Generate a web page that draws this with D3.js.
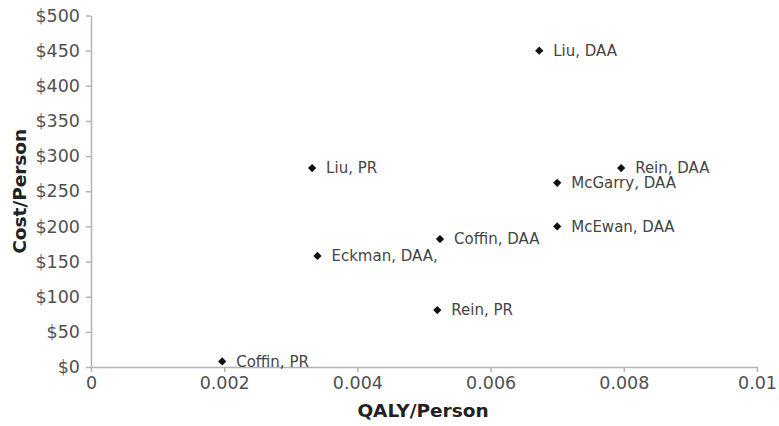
<!DOCTYPE html>
<html lang="en">
<head>
    <meta charset="UTF-8">
    <title>Cost vs QALY</title>
    <script src="https://d3js.org/d3.v7.min.js"></script>
    <style>
        body { margin: 0; background: #fff; }
        .axis path, .axis line { stroke: #b3b3b3; stroke-width: 1.5; }
        .axis text { font: 17.5px "DejaVu Sans", Verdana, sans-serif; fill: #505050; }
        .pt-label { font: 15px "DejaVu Sans", Verdana, sans-serif; fill: #444; }
        .title { font: bold 18.5px "DejaVu Sans", Verdana, sans-serif; fill: #222; }
    </style>
</head>
<body>
    <svg width="779" height="426"></svg>
    <script>
        // study labels and values
        const labels = ["Coffin, PR", "Liu, PR", "Eckman, DAA,", "Coffin, DAA", "Rein, PR",
                        "Liu, DAA", "Rein, DAA", "McGarry, DAA", "McEwan, DAA"];
        const qaly = [0.00197, 0.00332, 0.0034, 0.00524, 0.0052, 0.00673, 0.00796, 0.0070, 0.0070];
        const cost = [8, 283, 158, 182, 81, 450, 283, 262, 200];

        const xTicks = [0, 0.002, 0.004, 0.006, 0.008, 0.01];
        const yTicks = [0, 50, 100, 150, 200, 250, 300, 350, 400, 450, 500];

        const svg = d3.select("svg"),
              margin = {top: 15.5, right: 22, bottom: 59, left: 91},
              width = +svg.attr("width") - margin.left - margin.right,
              height = +svg.attr("height") - margin.top - margin.bottom,
              g = svg.append("g").attr("transform", `translate(${margin.left},${margin.top})`);

        const x = d3.scaleLinear().domain([0, 0.01]).range([0, width]);
        const y = d3.scaleLinear().domain([0, 500]).range([height, 0]);

        // y axis
        g.append("g")
         .attr("class", "axis")
         .call(d3.axisLeft(y).tickValues(yTicks).tickSize(5).tickPadding(6)
               .tickFormat(d => "$" + d).tickSizeOuter(0));

        // x axis
        g.append("g")
         .attr("class", "axis")
         .attr("transform", `translate(0,${height})`)
         .call(d3.axisBottom(x).tickValues(xTicks).tickSize(5).tickPadding(5)
               .tickFormat(d => d === 0 ? "0" : String(+d.toFixed(3))).tickSizeOuter(0));

        const data = labels.map((l, i) => ({label: l, x: qaly[i], y: cost[i]}));

        const diamond = d3.symbol().type(d3.symbolSquare).size(34);

        const pts = g.selectAll(".pt")
         .data(data)
         .join("g")
         .attr("transform", d => `translate(${x(d.x)},${y(d.y)})`);

        pts.append("path")
         .attr("d", diamond)
         .attr("transform", "rotate(45)")
         .attr("fill", "#111");

        pts.append("text")
         .attr("class", "pt-label")
         .attr("x", 14)
         .attr("dy", "0.35em")
         .text(d => d.label);

        // axis titles
        svg.append("text")
         .attr("class", "title")
         .attr("text-anchor", "middle")
         .attr("x", margin.left + width / 2 - 1)
         .attr("y", 417)
         .text("QALY/Person");

        svg.append("text")
         .attr("class", "title")
         .attr("text-anchor", "middle")
         .attr("transform", `translate(26,${margin.top + height / 2}) rotate(-90)`)
         .text("Cost/Person");
    </script>
</body>
</html>
